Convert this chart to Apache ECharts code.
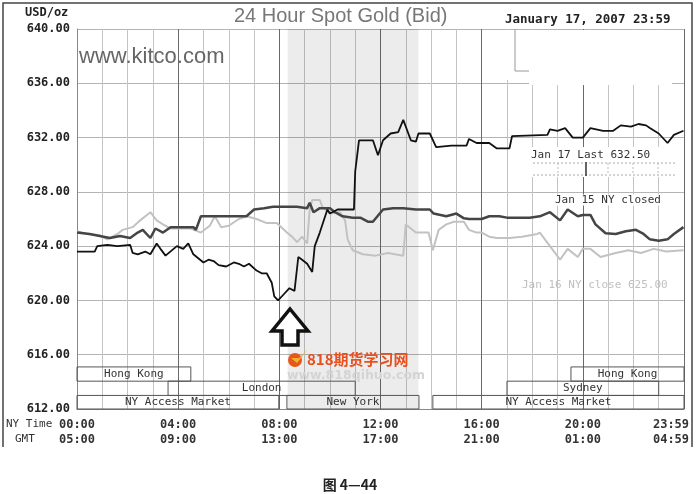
<!DOCTYPE html>
<html><head><meta charset="utf-8">
<script src="https://cdn.jsdelivr.net/npm/echarts/dist/echarts.min.js"></script>
<style>html,body{margin:0;padding:0;background:#fff}#c{width:700px;height:494px}</style>
</head><body><div id="c"></div>
<script>
// ---- data ----
const nyTimeLabels = ['00:00','04:00','08:00','12:00','16:00','20:00','23:59'];
const gmtLabels    = ['05:00','09:00','13:00','17:00','21:00','01:00','04:59'];
const yMin = 612, yMax = 640, yStep = 4;

const jan17 = [[0,623.6],[0.7,623.6],[0.8,624.0],[1.2,624.1],[1.6,624.0],[2.1,624.1],[2.2,623.5],[2.4,623.4],[2.7,623.6],[2.9,623.4],[3.15,624.2],[3.3,623.8],[3.5,623.3],[3.95,624.0],[4.2,623.8],[4.4,624.2],[4.6,623.4],[5.0,622.8],[5.2,623.0],[5.4,622.9],[5.6,622.6],[5.9,622.5],[6.2,622.8],[6.4,622.7],[6.6,622.5],[6.8,622.7],[7.1,622.2],[7.3,622.0],[7.5,622.0],[7.7,621.3],[7.8,620.3],[7.95,620.0],[8.15,620.4],[8.4,620.9],[8.6,620.7],[8.75,623.2],[8.9,623.0],[9.1,622.7],[9.3,622.1],[9.4,624.0],[9.6,625.0],[9.9,626.7],[10.0,626.4],[10.3,626.7],[10.95,626.7],[11.0,629.5],[11.15,631.8],[11.7,631.8],[11.9,630.7],[12.1,631.8],[12.4,632.3],[12.7,632.4],[12.9,633.3],[13.2,631.8],[13.4,631.7],[13.5,632.3],[13.95,632.3],[14.2,631.3],[14.8,631.4],[15.4,631.4],[15.5,631.9],[15.8,631.6],[16.3,631.6],[16.6,631.2],[17.1,631.2],[17.2,632.1],[18.6,632.2],[18.7,632.6],[19.0,632.5],[19.3,632.7],[19.6,632.0],[20.0,632.0],[20.3,632.7],[20.8,632.5],[21.2,632.5],[21.5,632.9],[21.9,632.8],[22.2,633.0],[22.5,632.9],[22.65,632.7],[23.0,632.3],[23.35,631.6],[23.6,632.2],[23.98,632.5]];

const jan15 = [[0,625.0],[0.5,624.9],[0.9,624.75],[1.3,624.6],[1.7,624.75],[2.1,624.6],[2.4,625.0],[2.6,625.2],[2.9,624.6],[3.1,625.3],[3.4,625.0],[3.7,625.4],[4.6,625.4],[4.7,625.2],[4.9,626.2],[6.7,626.2],[7.0,626.7],[7.4,626.8],[7.75,626.9],[8.7,626.9],[9.1,626.8],[9.2,627.2],[9.35,626.5],[9.6,626.8],[10.0,626.8],[10.2,626.5],[10.5,626.2],[10.9,626.1],[11.2,626.1],[11.5,625.8],[11.7,625.8],[12.1,626.7],[12.5,626.8],[12.9,626.8],[13.4,626.7],[13.95,626.7],[14.1,626.4],[14.6,626.2],[15.0,626.4],[15.3,626.05],[15.5,626.0],[16.0,626.0],[16.3,626.2],[16.7,626.2],[17.0,626.1],[17.9,626.1],[18.3,626.2],[18.7,626.5],[19.1,625.9],[19.4,626.7],[19.8,626.2],[20.0,626.3],[20.3,626.3],[20.5,625.6],[20.9,624.95],[21.3,624.9],[21.7,625.1],[22.1,625.2],[22.4,624.9],[22.65,624.5],[23.0,624.4],[23.35,624.5],[23.6,624.9],[23.98,625.4]];

const jan16 = [[0,625.1],[0.4,624.9],[0.9,624.8],[1.2,624.5],[1.6,624.9],[1.8,625.2],[2.2,625.4],[2.5,625.9],[2.9,626.5],[3.15,625.9],[3.4,625.6],[3.7,625.3],[4.5,625.3],[4.9,625.0],[5.25,625.5],[5.45,626.2],[5.7,625.4],[6.0,625.5],[6.4,626.0],[6.7,626.2],[7.1,626.0],[7.5,625.7],[7.9,625.7],[8.3,625.0],[8.5,624.7],[8.7,624.3],[8.9,624.7],[9.1,624.2],[9.2,626.7],[9.3,627.4],[9.6,627.4],[9.7,626.9],[10.0,626.4],[10.4,626.5],[10.6,625.9],[10.7,624.5],[10.9,623.7],[11.3,623.4],[11.8,623.3],[12.3,623.5],[12.9,623.3],[13.0,625.6],[13.4,625.0],[13.9,625.0],[14.07,623.7],[14.3,625.2],[14.6,625.6],[14.9,625.8],[15.3,625.8],[15.5,625.2],[15.8,625.0],[16.0,625.0],[16.3,624.7],[16.6,624.6],[17.1,624.6],[17.6,624.7],[18.2,624.9],[18.3,625.0],[18.7,624.0],[19.1,623.0],[19.4,623.8],[19.8,623.2],[20.0,623.8],[20.3,623.8],[20.7,623.2],[21.3,623.5],[21.8,623.7],[22.3,623.5],[22.8,623.8],[23.3,623.6],[23.98,623.7]];

const nySession = [8.33, 13.5];
// name, start hour, end hour, row
const sessions = [
  ['Hong Kong', 0, 4.5, 0],
  ['Hong Kong', 19.53, 24, 0],
  ['London', 3.6, 11.0, 1],
  ['Sydney', 17.0, 23.0, 1],
  ['NY Access Market', 0, 7.98, 2],
  ['New York', 8.3, 13.52, 2],
  ['NY Access Market', 14.07, 24, 2]
];
const rowTops = [615.1, 614.05, 613.0];
const rowBottoms = [614.05, 613.0, 612.0];

// ---- chart ----
const mono = 'DejaVu Sans Mono';
const chart = echarts.init(document.getElementById('c'), null, {renderer: 'canvas'});

const sessionAreas = sessions.map(s => [
  {name: s[0], xAxis: s[1], yAxis: rowTops[s[3]]},
  {xAxis: s[2], yAxis: rowBottoms[s[3]]}
]);

chart.setOption({
  backgroundColor: '#fff',
  animation: false,
  title: {
    text: '24 Hour Spot Gold (Bid)', left: 234, top: 6, padding: 0,
    textStyle: {fontFamily: 'Liberation Sans', fontSize: 20, fontWeight: 'normal', color: '#777'}
  },
  grid: {left: 77, top: 29, width: 607, height: 380, containLabel: false, outerBoundsMode: 'none'},
  xAxis: [{
    type: 'value', min: 0, max: 24, interval: 1,
    axisLine: {show: true, lineStyle: {color: '#888', width: 1}},
    axisTick: {show: false},
    splitLine: {show: true, lineStyle: {color: '#c4c4c4', width: 1}},
    axisLabel: {
      margin: 8,
      formatter: function (v) {
        if (Math.abs(v % 4) > 1e-6) return '';
        const i = Math.round(v / 4);
        const st = (i === 6) ? 'e' : 'n';
        return '{' + st + '|' + nyTimeLabels[i] + '}\n{' + st + '|' + gmtLabels[i] + '}';
      },
      rich: {
        n: {fontFamily: mono, fontSize: 12, fontWeight: 'bold', color: '#333', lineHeight: 15},
        e: {fontFamily: mono, fontSize: 12, fontWeight: 'bold', color: '#333', lineHeight: 15, padding: [0, 26, 0, 0]}
      }
    }
  }, {
    type: 'value', min: 0, max: 24, interval: 4, position: 'bottom',
    axisLine: {show: false}, axisTick: {show: false}, axisLabel: {show: false},
    splitLine: {show: true, lineStyle: {color: '#6a6a6a', width: 1}}
  }],
  yAxis: {
    type: 'value', min: yMin, max: yMax, interval: yStep,
    axisLine: {show: true, lineStyle: {color: '#888'}},
    axisTick: {show: false},
    splitLine: {show: true, lineStyle: {color: '#b4b4b4', width: 1}},
    axisLabel: {
      margin: 7, color: '#222', fontFamily: mono, fontSize: 12, fontWeight: 'bold',
      formatter: v => v.toFixed(2)
    }
  },
  series: [
    {
      name: 'shade', type: 'line', data: [], silent: true,
      markArea: {
        silent: true,
        itemStyle: {color: 'rgba(0,0,0,0.075)'},
        data: [[{xAxis: nySession[0]}, {xAxis: nySession[1]}]]
      }
    },
    {
      name: 'sessions', type: 'line', data: [], silent: true,
      markArea: {
        silent: true,
        itemStyle: {color: 'rgba(0,0,0,0)', borderColor: '#555', borderWidth: 1},
        label: {show: true, position: 'inside', color: '#333', fontFamily: mono, fontSize: 11},
        data: sessionAreas
      }
    },
    {name: 'Jan 16', type: 'line', data: jan16, showSymbol: false, symbol: 'none',
      lineStyle: {color: '#c2c2c2', width: 2}},
    {name: 'Jan 15', type: 'line', data: jan15, showSymbol: false, symbol: 'none',
      lineStyle: {color: '#454545', width: 2.5}},
    {name: 'Jan 17', type: 'line', data: jan17, showSymbol: false, symbol: 'none',
      lineStyle: {color: '#111', width: 1.8}}
  ],
  graphic: [
    // outer frame
    {type: 'polyline', z: 100, shape: {points: [[3, 447], [3, 3], [692, 3], [692, 447]]},
      style: {stroke: '#444', lineWidth: 1.5, fill: null}},
    // scan artifact: blank patch top right
    {type: 'rect', z: 60, shape: {x: 529, y: 30, width: 143, height: 55}, style: {fill: '#fff'}},
    {type: 'rect', z: 60, shape: {x: 503, y: 30, width: 9, height: 50}, style: {fill: '#fff'}},
    {type: 'polyline', z: 61, shape: {points: [[515, 29], [515, 71], [529, 71]]},
      style: {stroke: '#999', lineWidth: 1, fill: null}},
    // texts
    {type: 'text', z: 100, style: {text: 'USD/oz', x: 25, y: 13, font: 'bold 12px "DejaVu Sans Mono"', fill: '#222', textVerticalAlign: 'middle'}},
    {type: 'text', z: 100, style: {text: 'January 17, 2007 23:59', x: 505, y: 20, font: 'bold 12.5px "DejaVu Sans Mono"', fill: '#222', textVerticalAlign: 'middle'}},
    {type: 'text', z: 100, style: {text: 'www.kitco.com', x: 79, y: 57, font: '22px "Liberation Sans"', fill: '#666', textVerticalAlign: 'middle'}},
    {type: 'text', z: 100, style: {text: 'NY Time', x: 6, y: 424, font: '11px "DejaVu Sans Mono"', fill: '#333', textVerticalAlign: 'middle'}},
    {type: 'text', z: 100, style: {text: 'GMT', x: 15, y: 439, font: '11px "DejaVu Sans Mono"', fill: '#333', textVerticalAlign: 'middle'}},
    // Jan 17 legend box
    {type: 'rect', z: 60, shape: {x: 528, y: 147, width: 152, height: 30}, style: {fill: '#fff'}},
    {type: 'text', z: 100, style: {text: 'Jan 17 Last 632.50', x: 531, y: 155, font: '11px "DejaVu Sans Mono"', fill: '#333', textVerticalAlign: 'middle'}},
    {type: 'polyline', z: 61, shape: {points: [[533, 163], [676, 163]]}, style: {stroke: '#aaa', lineWidth: 1, lineDash: [2, 2], fill: null}},
    {type: 'polyline', z: 61, shape: {points: [[533, 175], [676, 175]]}, style: {stroke: '#aaa', lineWidth: 1, lineDash: [2, 2], fill: null}},
    {type: 'polyline', z: 61, shape: {points: [[558, 163], [558, 175]]}, style: {stroke: '#bbb', lineWidth: 1, lineDash: [2, 2], fill: null}},
    {type: 'polyline', z: 61, shape: {points: [[608, 163], [608, 175]]}, style: {stroke: '#bbb', lineWidth: 1, lineDash: [2, 2], fill: null}},
    {type: 'polyline', z: 61, shape: {points: [[633, 163], [633, 175]]}, style: {stroke: '#bbb', lineWidth: 1, lineDash: [2, 2], fill: null}},
    {type: 'polyline', z: 61, shape: {points: [[658, 163], [658, 175]]}, style: {stroke: '#bbb', lineWidth: 1, lineDash: [2, 2], fill: null}},
    {type: 'polyline', z: 61, shape: {points: [[586, 162], [586, 176]]}, style: {stroke: '#333', lineWidth: 1.5, fill: null}},
    {type: 'text', z: 100, style: {text: 'Jan 15 NY closed', x: 555, y: 200, font: '11px "DejaVu Sans Mono"', fill: '#333', textVerticalAlign: 'middle', backgroundColor: '#fff'}},
    {type: 'text', z: 100, style: {text: 'Jan 16 NY close 625.00', x: 522, y: 285, font: '11px "DejaVu Sans Mono"', fill: '#c0c0c0', textVerticalAlign: 'middle'}},
    // arrow
    {type: 'polygon', z: 100, shape: {points: [[290, 309], [308, 331], [298, 331], [298, 345], [282, 345], [282, 331], [272, 331]]},
      style: {fill: '#fff', stroke: '#111', lineWidth: 3.5, lineJoin: 'miter'}},
    // 818 watermark logo
    {type: 'circle', z: 100, shape: {cx: 295, cy: 360, r: 7}, style: {fill: '#e8561c'}},
    {type: 'polygon', z: 101, shape: {points: [[291, 358], [297, 363], [308, 349], [299, 358]]}, style: {fill: '#f6b030'}},
    {type: 'text', z: 100, style: {text: '818期货学习网', x: 307, y: 359, font: 'bold 15px "Noto Sans CJK SC"', fill: '#e8501e', textVerticalAlign: 'middle'}},
    {type: 'text', z: 100, style: {text: 'www.818qihuo.com', x: 287, y: 376, font: 'bold 12.5px "DejaVu Sans"', fill: '#d4d4d4', textVerticalAlign: 'middle'}},
    // caption
    {type: 'text', z: 100, style: {text: '图 4—44', x: 350, y: 485, font: 'bold 14px "Noto Sans CJK SC"', fill: '#222', textAlign: 'center', textVerticalAlign: 'middle'}}
  ]
});
</script>
</body></html>
